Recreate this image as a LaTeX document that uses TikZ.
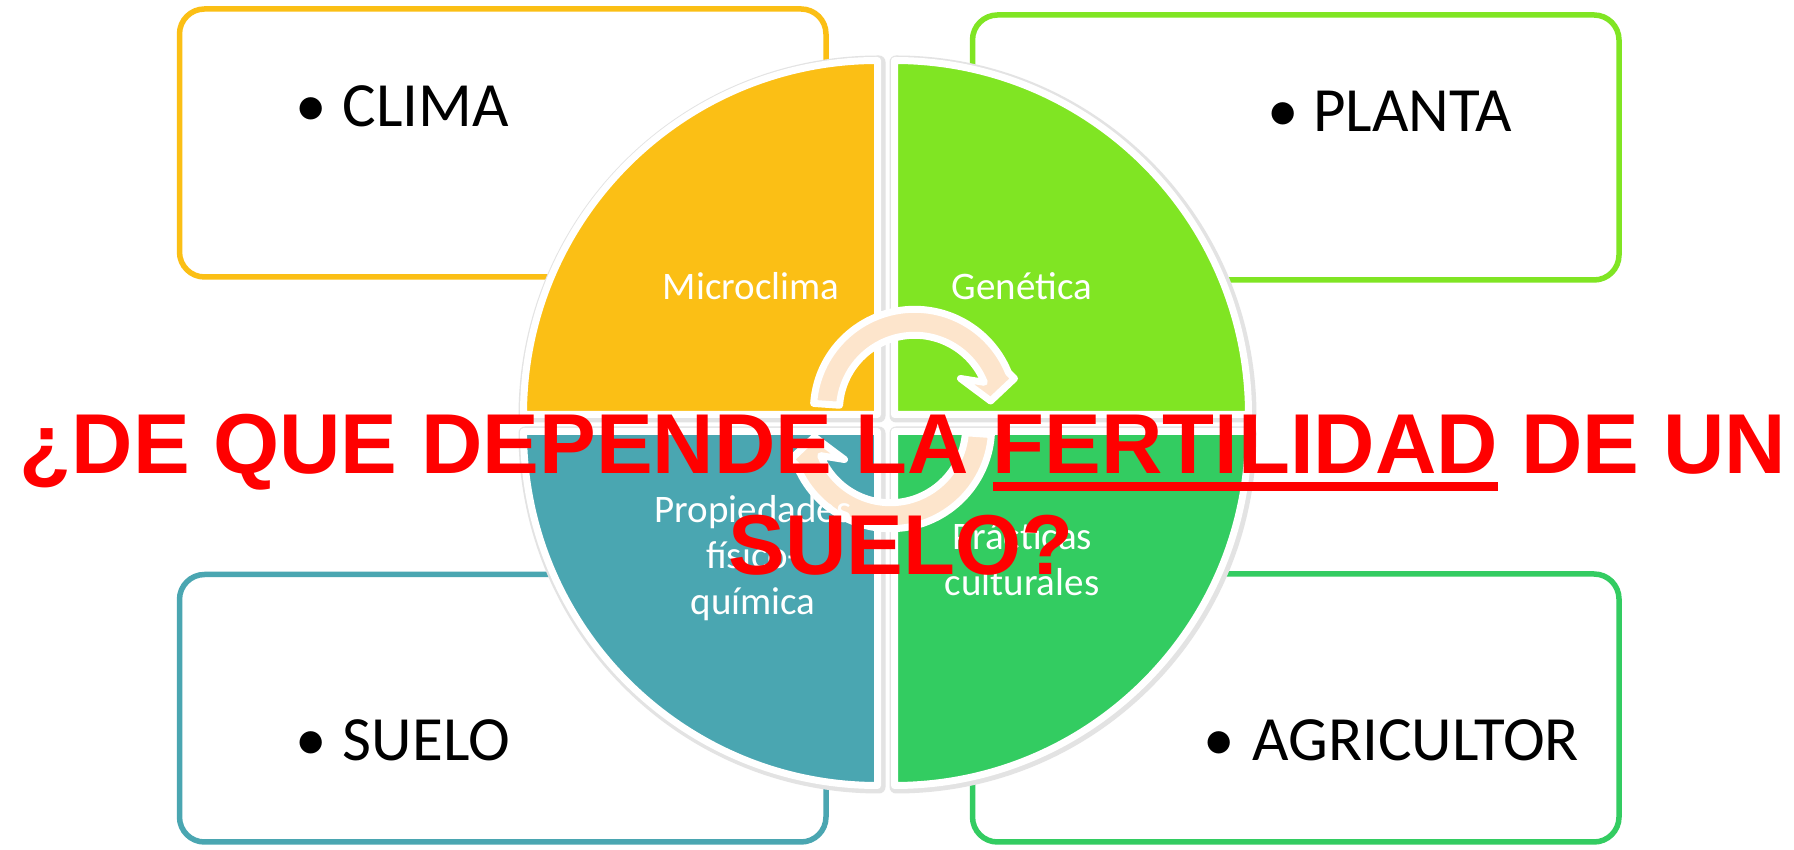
\documentclass[tikz,border=0pt]{standalone}
\usepackage{fontspec}
\newfontfamily\bodyfont{Carlito}
\newfontfamily\titlefont{Liberation Sans}
\definecolor{cyel}{HTML}{FBBF15}
\definecolor{clgr}{HTML}{80E523}
\definecolor{cteal}{HTML}{4AA6B1}
\definecolor{cgrn}{HTML}{33CC61}
\definecolor{cpeach}{HTML}{FDE5CC}
\definecolor{cred}{HTML}{FF0000}
\newcommand\ulx[1]{\setbox0\hbox{#1}\rlap{\rule[-8.5pt]{\wd0}{4.5pt}}\box0\relax}
\newcommand\stk[1]{\vtop{\halign{\hfil##\hfil\cr#1\crcr}}}
\begin{document}
\begin{tikzpicture}[x=0.5pt,y=0.5pt,
  frame/.style={line width=2.75pt, rounded corners=12.5pt, fill=white},
  quad/.style={line width=3.5pt, draw=white, line join=round},
  qshadow/.style={line width=6.5pt, draw=black!11, fill=black!11, line join=round},
  boxtxt/.style={font=\bodyfont\fontsize{31.5}{38}\selectfont, inner sep=0pt, anchor=base west},
  bul/.style={font=\bodyfont\fontsize{31.5}{38}\selectfont, inner sep=0pt, anchor=base},
  qtxt/.style={font=\bodyfont\fontsize{19.5}{23}\selectfont, text=white, inner sep=0pt, anchor=base},
  ttl/.style={font=\titlefont\bfseries\fontsize{42.5}{50}\selectfont, text=cred, inner sep=0pt, anchor=base},
  arr/.style={fill=cpeach, draw=white, line width=3.5pt, line join=round}
]
\useasboundingbox (0,0) rectangle (1794,850);
\fill[white] (0,0) rectangle (1794,850);

% outer boxes
\draw[frame, draw=cyel]  (179.5,573) rectangle (826,841);
\draw[frame, draw=clgr]  (972.5,570) rectangle (1619,835);
\draw[frame, draw=cteal] (179.5,8) rectangle (826,275.5);
\draw[frame, draw=cgrn]  (972.5,8) rectangle (1619,276);

% box texts
\node[bul] (b1) at (311,723) {\textbullet};
\node[boxtxt] (clima) at (342.5,723) {CLIMA};
\node[bul] (b2) at (1283.6,718) {\textbullet};
\node[boxtxt] (planta) at (1313,718) {PLANTA};
\node[bul] (b3) at (311,89) {\textbullet};
\node[boxtxt] (suelo) at (342.5,89) {SUELO};
\node[bul] (b4) at (1219.5,89) {\textbullet};
\node[boxtxt] (agri) at (1252,89) {AGRICULTOR};

% quadrant shadows
\begin{scope}[shift={(1.5,-1.5)}]
\filldraw[qshadow] (877.5,435.5) -- ++(-354,0) arc[start angle=180,end angle=90,radius=354] -- cycle;
\filldraw[qshadow] (894.5,435.5) -- ++(0,354) arc[start angle=90,end angle=0,radius=354] -- cycle;
\filldraw[qshadow] (877.5,418.5) -- ++(0,-354) arc[start angle=270,end angle=180,radius=354] -- cycle;
\filldraw[qshadow] (894.5,418.5) -- ++(354,0) arc[start angle=0,end angle=-90,radius=354] -- cycle;
\end{scope}
% quadrants
\filldraw[quad, fill=cyel]  (877.5,435.5) -- ++(-354,0) arc[start angle=180,end angle=90,radius=354] -- cycle;
\filldraw[quad, fill=clgr]  (894.5,435.5) -- ++(0,354) arc[start angle=90,end angle=0,radius=354] -- cycle;
\filldraw[quad, fill=cteal] (877.5,418.5) -- ++(0,-354) arc[start angle=270,end angle=180,radius=354] -- cycle;
\filldraw[quad, fill=cgrn]  (894.5,418.5) -- ++(354,0) arc[start angle=0,end angle=-90,radius=354] -- cycle;

% circular arrows (point-symmetric pair)
\begin{scope}[shift={(902.5,431)}]
\begin{scope}[shift={(12.1,8.5)}]
\filldraw[arr] (176:101.2) arc[start angle=176,end angle=22,radius=101.2]
  -- (99.9,32) -- (76,9.5) -- (45.9,32) -- (22:75.2)
  arc[start angle=22,end angle=176,radius=75.2] -- cycle;
\end{scope}
\begin{scope}[rotate=180, shift={(12.1,8.5)}]
\filldraw[arr] (176:101.2) arc[start angle=176,end angle=22,radius=101.2]
  -- (99.9,32) -- (76,9.5) -- (45.9,32) -- (22:75.2)
  arc[start angle=22,end angle=176,radius=75.2] -- cycle;
\end{scope}
\end{scope}

% quadrant texts
\node[qtxt] (q1) at (751,550) {Microclima};
\node[qtxt] (q2) at (1022,550) {Genética};
\node[qtxt] (q3) at (753,327) {\stk{Propiedades\cr físico-\cr química}};
\node[qtxt] (q4) at (1022,300) {\stk{Prácticas\cr culturales}};

% title
\node[ttl] (t1) at (903,376) {¿DE QUE DEPENDE LA \ulx{FERTILIDAD} DE UN};
\node[ttl] (t2) at (901,275) {SUELO?};
\end{tikzpicture}
\end{document}
